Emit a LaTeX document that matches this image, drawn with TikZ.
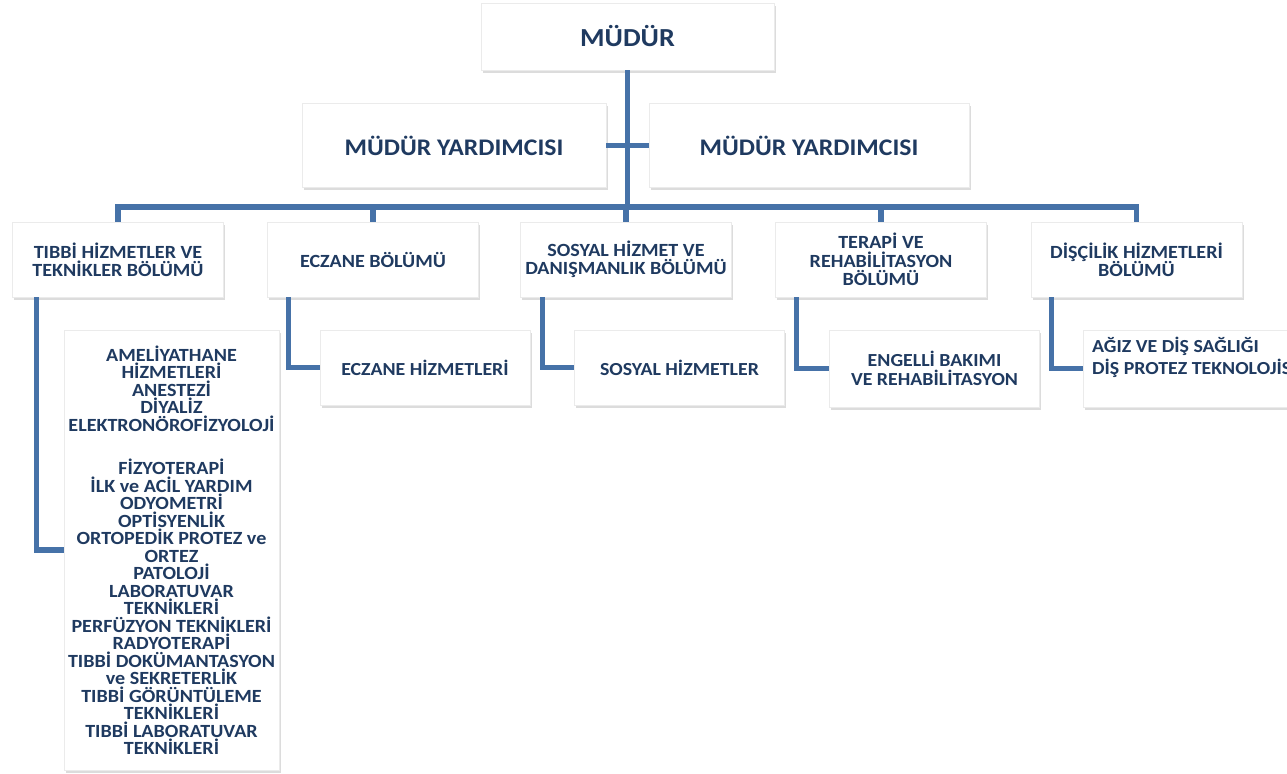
\documentclass[tikz,border=0pt]{standalone}
\usepackage{fontspec}
\setmainfont{Carlito}[FakeStretch=1.08]
\usetikzlibrary{positioning,shadows}
\definecolor{linkblue}{HTML}{4672A8}
\definecolor{textblue}{HTML}{1F3A60}

\begin{document}
\begin{tikzpicture}[x=0.5pt,y=-0.5pt]

\tikzset{box/.style={fill=white,draw=black!8,line width=0.3pt,drop shadow={shadow xshift=0.9pt,shadow yshift=-1.3pt,opacity=0.28},text=textblue,align=center,inner sep=2pt},
topbox/.style={box,font=\fontsize{13}{16}\selectfont\bfseries,minimum width=146.5pt,minimum height=33.5pt},
deputybox/.style={box,font=\fontsize{11.9}{14}\selectfont\bfseries,minimum height=42pt},
deptbox/.style={box,font=\fontsize{9.3}{9.2}\selectfont\bfseries,minimum width=105.5pt,minimum height=37.5pt},
unitbox/.style={box,font=\fontsize{9.2}{9.6}\selectfont\bfseries,minimum width=105pt,minimum height=37.5pt},
link/.style={draw=linkblue,line width=2.6pt}}

\useasboundingbox (0,0) rectangle (1287,773);
\clip (0,0) rectangle (1287,773);

% Top nodes
\node[topbox] (mudur) at (627.5,36.5) {MÜDÜR};
\node[deputybox,minimum width=152pt] (yard1) at (454,145.5) {MÜDÜR YARDIMCISI};
\node[deputybox,minimum width=160pt] (yard2) at (809,145.5) {MÜDÜR YARDIMCISI};
\coordinate (bar) at (627.5,207);

% Department nodes
\node[deptbox] (tibbi) at (118,259.5) {TIBBİ HİZMETLER VE\\TEKNİKLER BÖLÜMÜ};
\node[deptbox] (eczane) at (373,259.5) {ECZANE BÖLÜMÜ};
\node[deptbox] (sosyal) at (626,259.5) {SOSYAL HİZMET VE\\DANIŞMANLIK BÖLÜMÜ};
\node[deptbox] (terapi) at (881,259.5) {TERAPİ VE\\REHABİLİTASYON\\BÖLÜMÜ};
\node[deptbox] (discilik) at (1136.5,259.5) {DİŞÇİLİK HİZMETLERİ\\BÖLÜMÜ};

% Unit nodes
\node[box,font=\fontsize{9.3}{8.75}\selectfont\bfseries,minimum width=105.5pt,minimum height=220pt] (tiblist) at (171.5,550) {AMELİYATHANE\\HİZMETLERİ\\ANESTEZİ\hspace*{1.4em}\\DİYALİZ\\ELEKTRONÖROFİZYOLOJİ\\[13pt]FİZYOTERAPİ\\İLK ve ACİL YARDIM\\ODYOMETRİ\\OPTİSYENLİK\\ORTOPEDİK PROTEZ ve\\ORTEZ\\PATOLOJİ\\LABORATUVAR\\TEKNİKLERİ\\PERFÜZYON TEKNİKLERİ\\RADYOTERAPİ\\TIBBİ DOKÜMANTASYON\\ve SEKRETERLİK\\TIBBİ GÖRÜNTÜLEME\\TEKNİKLERİ\\TIBBİ LABORATUVAR\\TEKNİKLERİ};
\node[unitbox] (eczhiz) at (425,367.5) {ECZANE HİZMETLERİ};
\node[unitbox] (soshiz) at (679.5,367.5) {SOSYAL HİZMETLER};
\node[unitbox,minimum height=38.5pt] (engelli) at (934.5,368.5) {ENGELLİ BAKIMI\\VE REHABİLİTASYON};
\node[unitbox,minimum height=38.5pt] (agiz) at (1188,368.5) {};
\node[anchor=north west,text=textblue,align=left,inner sep=0pt,font=\fontsize{9.2}{11}\selectfont\bfseries] (agiztxt) at ([xshift=4.5pt,yshift=-3.5pt]agiz.north west) {AĞIZ VE DİŞ SAĞLIĞI\\DİŞ PROTEZ TEKNOLOJİSİ};

% Edges
\draw[link] (mudur.south) -- (bar); \draw[link] (yard1.east) -- (yard2.west);
\draw[link] (tibbi.north) |- (bar) -| (discilik.north);
\draw[link] (eczane.north) -- (eczane.north |- bar); \draw[link] (sosyal.north) -- (sosyal.north |- bar); \draw[link] (terapi.north) -- (terapi.north |- bar);
\draw[link] ([xshift=12pt]tibbi.south west) |- (tiblist.west); \draw[link] ([xshift=10.5pt]eczane.south west) |- (eczhiz.west); \draw[link] ([xshift=11pt]sosyal.south west) |- (soshiz.west);
\draw[link] ([xshift=10.5pt]terapi.south west) |- (engelli.west); \draw[link] ([xshift=10.5pt]discilik.south west) |- (agiz.west);

\end{tikzpicture}
\end{document}
